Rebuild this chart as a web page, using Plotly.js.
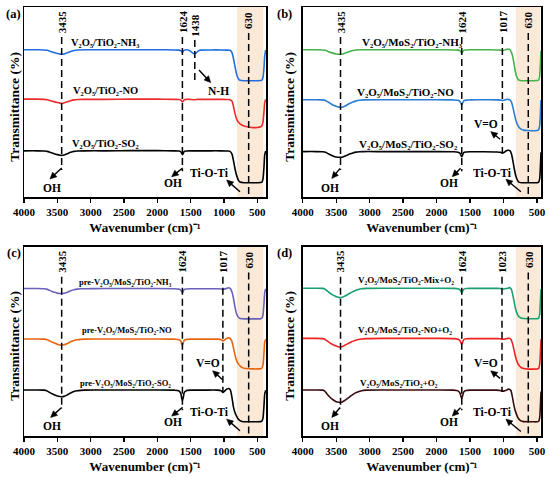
<!DOCTYPE html>
<html>
<head>
<meta charset="utf-8">
<script src="https://cdn.plot.ly/plotly-3.0.1.min.js"></script>
<style>html,body{margin:0;padding:0;background:#fff;}#chart{width:550px;height:478px;}</style>
</head>
<body>
<div id="chart"></div>
<script>
// ---------------- DATA ----------------
// Panel (a)
var wnA = [4000,3800,3700,3650,3600,3550,3500,3460,3435,3400,3350,3300,3250,3200,3100,2800,2400,2000,1750,1680,1650,1635,1624,1610,1595,1560,1520,1490,1460,1438,1415,1390,1350,1200,1050,950,910,880,860,840,820,800,780,760,700,630,560,500,450,430,415,400,390,375];
var aNH3 = [77.5,77.5,77.4,77.2,76.6,76.0,75.5,75.2,75.1,75.3,75.9,76.6,77.1,77.4,77.5,77.5,77.5,77.5,77.4,77.3,77.1,76.6,76.2,76.8,77.3,77.5,77.1,76.4,75.6,75.3,75.9,76.8,77.3,77.4,77.4,77.3,77.2,76.0,73.2,69.5,66.0,63.4,62.0,61.5,61.2,61.2,61.2,61.2,61.3,61.6,63.0,68.0,74.0,77.4];
var aNO  = [51.5,51.5,51.4,51.2,50.7,50.2,49.7,49.4,49.3,49.5,50.1,50.7,51.1,51.3,51.4,51.4,51.5,51.5,51.4,51.3,51.1,50.5,50.0,50.6,51.2,51.4,51.4,51.3,51.2,51.2,51.3,51.4,51.4,51.4,51.4,51.3,51.2,50.4,48.0,44.8,42.0,40.2,39.2,38.5,37.4,36.8,36.5,36.6,37.0,37.6,39.5,45.0,49.5,51.4];
var aSO2 = [24.3,24.3,24.2,24.0,23.4,22.8,22.3,22.0,21.9,22.1,22.8,23.5,24.0,24.2,24.3,24.3,24.4,24.4,24.3,24.2,23.9,23.0,22.3,23.1,24.0,24.2,24.3,24.3,24.3,24.3,24.3,24.3,24.3,24.3,24.3,24.2,24.0,22.6,19.5,15.8,12.5,10.2,8.6,7.9,7.5,7.5,7.5,7.5,7.6,7.9,9.5,16.0,22.0,24.2];

// Panel (b)
var wnB = [4000,3800,3700,3660,3620,3580,3540,3500,3460,3435,3400,3350,3300,3250,3200,3150,3100,2800,2400,2000,1750,1680,1650,1635,1624,1610,1595,1560,1500,1300,1100,1040,1017,995,965,935,905,880,860,840,820,800,780,760,730,700,630,560,500,475,460,450,440];
var bNH3 = [77.5,77.5,77.4,77.2,76.6,76.0,75.6,75.3,75.1,75.1,75.3,75.9,76.6,77.1,77.4,77.5,77.5,77.5,77.5,77.5,77.4,77.3,77.0,76.2,75.6,76.4,77.2,77.4,77.5,77.5,77.4,77.3,77.1,77.2,77.6,77.9,77.6,76.0,73.5,69.5,65.5,63.0,61.8,61.4,61.2,61.2,61.2,61.2,61.3,61.6,63.5,69.0,77.0];
var bNO  = [51.2,51.2,51.1,50.8,50.0,49.1,48.3,47.7,47.3,47.2,47.4,48.2,49.2,50.0,50.6,50.9,51.1,51.2,51.2,51.2,51.1,50.9,50.3,49.2,48.4,49.5,50.6,51.0,51.1,51.2,51.1,51.0,50.8,50.9,51.3,51.4,51.1,49.8,47.3,44.0,41.0,38.8,37.3,36.3,35.6,35.2,35.0,34.9,35.0,35.4,37.5,43.0,51.0];
var bSO2 = [23.9,23.9,23.8,23.5,22.8,22.1,21.5,21.1,20.9,20.9,21.1,21.8,22.6,23.2,23.6,23.8,23.9,23.9,23.9,23.9,23.8,23.6,23.0,21.9,21.2,22.2,23.4,23.7,23.8,23.8,23.7,23.5,23.2,23.4,24.2,24.6,24.4,22.5,19.0,15.0,11.6,9.5,8.2,7.7,7.5,7.5,7.5,7.5,7.5,7.8,9.5,15.0,23.5];

// Panel (c)
var wnC = [4000,3800,3700,3660,3620,3580,3540,3500,3460,3435,3400,3350,3300,3250,3200,3150,3100,2800,2400,2000,1750,1680,1650,1635,1624,1610,1595,1560,1500,1300,1100,1040,1017,995,960,930,905,880,860,840,820,800,780,760,730,700,630,560,500,450,430,415,400,390,375];
var cNH3 = [77.8,77.8,77.7,77.5,76.9,76.3,75.8,75.4,75.2,75.1,75.3,75.9,76.6,77.2,77.5,77.7,77.7,77.8,77.8,77.8,77.7,77.5,77.1,76.2,75.6,76.5,77.4,77.6,77.7,77.7,77.7,77.6,77.4,77.5,77.9,78.2,77.8,76.0,73.0,69.0,65.5,63.5,62.5,62.0,61.9,61.8,61.8,61.8,61.8,61.9,62.3,64.0,70.0,75.5,77.7];
var cNO  = [51.2,51.2,51.1,50.9,50.3,49.6,49.0,48.4,48.0,47.9,48.1,48.8,49.7,50.4,50.8,51.0,51.1,51.2,51.2,51.2,51.1,50.9,50.1,48.7,47.9,49.2,50.6,51.0,51.1,51.1,51.1,50.8,50.2,50.6,51.5,51.8,51.4,49.8,46.8,43.5,40.8,39.0,37.8,37.0,36.2,35.8,35.5,35.4,35.4,35.5,35.9,37.5,44.0,49.5,51.1];
var cSO2 = [24.3,24.3,24.2,23.9,23.1,22.3,21.6,21.1,20.8,20.7,20.9,21.7,22.7,23.5,23.9,24.1,24.2,24.3,24.3,24.3,24.2,23.9,22.6,20.0,18.6,20.6,23.0,24.0,24.2,24.2,24.2,23.8,23.0,23.6,24.7,25.1,24.3,20.3,15.6,12.8,11.1,9.7,8.7,8.1,7.7,7.5,7.5,7.5,7.5,7.6,7.9,9.5,16.0,22.0,24.2];

// Panel (d)
var wnD = [4000,3800,3700,3670,3640,3600,3560,3520,3480,3450,3435,3410,3370,3320,3270,3220,3170,3120,3050,2800,2400,2000,1750,1680,1650,1635,1624,1610,1595,1560,1500,1300,1100,1050,1023,990,960,935,915,890,870,850,830,810,790,770,740,700,630,560,500,475,460,450,440];
var dMix = [78.0,78.0,77.9,77.6,76.7,75.6,74.6,73.9,73.3,73.0,73.0,73.2,73.9,74.8,75.8,76.7,77.3,77.7,77.9,78.0,78.0,78.0,77.9,77.7,77.1,76.2,75.6,76.5,77.4,77.8,77.9,77.9,77.9,77.8,77.6,77.6,77.8,78.0,78.3,77.8,75.8,72.5,68.8,65.8,64.0,63.0,62.3,62.0,61.9,61.9,61.9,62.2,64.0,70.0,77.5];
var dNO  = [51.5,51.5,51.4,51.1,50.3,49.3,48.4,47.7,47.2,47.0,47.0,47.2,47.9,48.8,49.7,50.4,50.9,51.2,51.4,51.5,51.5,51.5,51.4,51.1,50.3,49.1,48.4,49.5,50.8,51.3,51.4,51.4,51.4,51.3,51.1,51.1,51.3,51.5,51.6,51.1,49.3,46.5,43.3,40.5,38.6,37.3,36.2,35.6,35.3,35.3,35.4,35.7,37.5,43.0,51.0];
var dO2  = [24.3,24.3,24.2,23.7,22.3,20.7,19.4,18.5,17.9,17.7,17.7,17.9,18.8,20.1,21.4,22.6,23.4,23.9,24.2,24.3,24.3,24.3,24.2,23.8,22.6,20.8,19.8,21.3,23.2,24.0,24.2,24.2,24.2,24.0,23.7,23.8,24.2,24.6,24.7,24.0,21.0,17.2,14.0,11.8,10.0,8.9,8.0,7.6,7.5,7.5,7.5,7.8,9.5,15.0,23.5];

var tickVals = [4000,3500,3000,2500,2000,1500,1000,500];
var namesA = ['V₂O₅/TiO₂-NH₃','V₂O₅/TiO₂-NO','V₂O₅/TiO₂-SO₂'];
var namesB = ['V₂O₅/MoS₂/TiO₂-NH₃','V₂O₅/MoS₂/TiO₂-NO','V₂O₅/MoS₂/TiO₂-SO₂'];
var namesC = ['pre-V₂O₅/MoS₂/TiO₂-NH₃','pre-V₂O₅/MoS₂/TiO₂-NO','pre-V₂O₅/MoS₂/TiO₂-SO₂'];
var namesD = ['V₂O₅/MoS₂/TiO₂-Mix+O₂','V₂O₅/MoS₂/TiO₂-NO+O₂','V₂O₅/MoS₂/TiO₂+O₂'];
var peaksA = [3435,1624,1438,630];
var peaksB = [3435,1624,1017,630];
var peaksC = [3435,1624,1017,630];
var peaksD = [3435,1624,1023,630];
var xTitle = 'Wavenumber (cm)⁻¹';
var yTitle = 'Transmittance (%)';

// ---------------- STYLE ----------------
var FONT = 'Liberation Serif, Times New Roman, serif';
var colors = {
  a: ['#1f6fe3','#ee2b2b','#000000'],
  b: ['#44b34a','#2b7cd3','#000000'],
  c: ['#6a61bd','#e8650f','#000000'],
  d: ['#18a06f','#ef2121','#3a0b0d']
};

var panels = [
  {id:'a', xa:'x',  ya:'y',  wn:wnA, ys:[aNH3,aNO,aSO2], names:namesA, peaks:peaksA, xdom:[24/550,266/550],   ydom:[(478-197)/478,(478-7)/478], xend:370, shade:[805,410], nameX:[2785,2785,2785], nameY:[81.4,55.9,28.4], nameSize:10.5},
  {id:'b', xa:'x2', ya:'y2', wn:wnB, ys:[bNH3,bNO,bSO2], names:namesB, peaks:peaksB, xdom:[302.7/550,541/550], ydom:[(478-197)/478,(478-7)/478], xend:440, shade:[815,455], nameX:[2365,2465,2420], nameY:[81.4,55.4,27.9], nameSize:11},
  {id:'c', xa:'x3', ya:'y3', wn:wnC, ys:[cNH3,cNO,cSO2], names:namesC, peaks:peaksC, xdom:[24/550,266/550],   ydom:[(478-436)/478,(478-246.5)/478], xend:370, shade:[805,410], nameX:[2475,2460,2475], nameY:[81.4,55.9,27.9], nameSize:8.5},
  {id:'d', xa:'x4', ya:'y4', wn:wnD, ys:[dMix,dNO,dO2], names:namesD, peaks:peaksD, xdom:[302.7/550,541/550], ydom:[(478-436)/478,(478-246.5)/478], xend:440, shade:[815,455], nameX:[2455,2475,2565], nameY:[82.3,55.9,27.9], nameSize:9}
];

var traces = [], shapes = [], annotations = [];
var layout = {
  width:550, height:478, margin:{l:0,r:0,t:0,b:0},
  paper_bgcolor:'#fff', plot_bgcolor:'rgba(0,0,0,0)', showlegend:false,
  font:{family:FONT, color:'#000'}
};

function txt(p, x, y, text, size, extra) {
  var o = {xref:p.xa, yref:p.ya, x:x, y:y, text:text, showarrow:false,
    font:{family:FONT, size:size, color:'#000', weight:'bold'}, xanchor:'center', yanchor:'middle'};
  for (var k in extra) o[k] = extra[k];
  annotations.push(o);
}
// arrow: head at data (x,y); tail offset (ax right, ay down) in screen pixels
function arrow(p, x, y, ax, ay) {
  var tx = ax, ty = -ay;                 // tail in up-positive pixel coords
  var len = Math.sqrt(tx*tx + ty*ty);
  var ux = -tx/len, uy = -ty/len;        // unit vector tail -> head
  var nx = -uy, ny = ux;
  var L = 6.5, W = 3.1;
  var bx = -L*ux, by = -L*uy;            // base centre of head
  var base = {xref:p.xa, yref:p.ya, xsizemode:'pixel', ysizemode:'pixel', xanchor:x, yanchor:y, type:'path'};
  var shaft = Object.assign({}, base, {path:'M'+tx.toFixed(2)+','+ty.toFixed(2)+' L'+(bx*0.7).toFixed(2)+','+(by*0.7).toFixed(2),
    line:{color:'#000', width:1.4}});
  var head = Object.assign({}, base, {path:'M0,0 L'+(bx+W*nx).toFixed(2)+','+(by+W*ny).toFixed(2)+' L'+(bx-W*nx).toFixed(2)+','+(by-W*ny).toFixed(2)+' Z',
    fillcolor:'#000', line:{color:'#000', width:0.6}});
  shapes.push(shaft, head);
}
function vline(p, x, y0, y1) {
  shapes.push({type:'line', xref:p.xa, yref:p.ya, x0:x, x1:x, y0:y0, y1:y1,
    line:{color:'#000', width:1.5, dash:'7px,4px'}});
}

panels.forEach(function(p, i) {
  var axN = p.xa === 'x' ? '' : p.xa.slice(1);
  layout['xaxis'+axN] = {
    domain:p.xdom, range:[4000, p.xend], anchor:p.ya, tickvals:tickVals,
    ticks:'outside', ticklen:4, tickwidth:1.3, tickcolor:'#000',
    showline:true, mirror:true, linewidth:1.5, linecolor:'#000',
    showgrid:false, zeroline:false,
    tickfont:{family:FONT, size:11, color:'#000', weight:'bold'},
    title:{text:xTitle, font:{family:FONT, size:13, color:'#000', weight:'bold'}, standoff:6}
  };
  layout['yaxis'+axN] = {
    domain:p.ydom, range:[0,100], anchor:p.xa, showticklabels:false, ticks:'',
    showline:true, mirror:true, linewidth:1.5, linecolor:'#000',
    showgrid:false, zeroline:false
  };
  // y title
  var left = (p.id==='a'||p.id==='c');
  var topRow = (p.id==='a'||p.id==='b');
  annotations.push({xref:'paper', yref:'paper', x:(left?15:290)/550, y:1-(topRow?106.7:345.7)/478,
    text:yTitle, textangle:-90, showarrow:false, xanchor:'center', yanchor:'middle',
    font:{family:FONT, size:13.5, color:'#000', weight:'bold'}});
  // shaded Ti-O-Ti region
  shapes.push({type:'rect', xref:p.xa, yref:p.ya, x0:p.shade[0], x1:p.shade[1], y0:0, y1:100,
    fillcolor:'#fbe9d8', line:{width:0}, layer:'below'});
  // spectra
  p.ys.forEach(function(yv, j) {
    traces.push({type:'scatter', mode:'lines', x:p.wn, y:yv, xaxis:p.xa, yaxis:p.ya,
      line:{color:colors[p.id][j], width:1.6, shape:'spline', smoothing:0.6}, hoverinfo:'skip'});
    txt(p, p.nameX[j], p.nameY[j], p.names[j], p.nameSize);
  });
  // peak markers
  var top = topRow ? 84.2 : 84.1;
  vline(p, p.peaks[0], top, 14.2);
  vline(p, p.peaks[1], top, 13.6);
  if (p.id === 'a') vline(p, p.peaks[2], 82.6, 60.5);
  else vline(p, p.peaks[2], top, (p.id==='b') ? 22.0 : 23.2);
  vline(p, p.peaks[3], 86.3, 0);
  p.peaks.forEach(function(pk, k) {
    var yy = (k===3) ? 93.0 : ((p.id==='a' && k===2) ? 90.5 : 92.3);
    txt(p, pk, yy, String(pk), 11, {textangle:-90});
  });
});

// OH / Ti-O-Ti / V=O / N-H labels
var L = panels;
// (a)
txt(L[0], 3585, 4.7, 'OH', 11.5);   arrow(L[0], 3610, 9.5, 11.7, -11);
txt(L[0], 1765, 7.4, 'OH', 11.5);   arrow(L[0], 1785, 10.7, 11, -8.7);
txt(L[0], 1225, 12.6, 'Ti-O-Ti', 11.5); arrow(L[0], 960, 8.9, 13.3, 11.7);
txt(L[0], 1090, 55.9, 'N-H', 11.5); arrow(L[0], 1200, 60.2, -11.7, -12.7);
// (b)
txt(L[1], 3590, 4.6, 'OH', 11.5);   arrow(L[1], 3565, 9.8, 8.3, -10);
txt(L[1], 1816, 7.5, 'OH', 11.5);   arrow(L[1], 1765, 10.7, 8.3, -8.4);
txt(L[1], 1165, 12.5, 'Ti-O-Ti', 11.5); arrow(L[1], 965, 9.3, 15, 12.4);
txt(L[1], 1265, 38.3, 'V=O', 11.5); arrow(L[1], 1190, 34.4, 9.3, 7.6);
// (c)
txt(L[2], 3585, 5.1, 'OH', 11.5);   arrow(L[2], 3600, 9.8, 11, -10);
txt(L[2], 1760, 7.5, 'OH', 11.5);   arrow(L[2], 1785, 10.5, 11, -8.7);
txt(L[2], 1220, 12.5, 'Ti-O-Ti', 11.5); arrow(L[2], 960, 8.9, 13.3, 11.7);
txt(L[2], 1235, 38.3, 'V=O', 11.5); arrow(L[2], 1170, 34.4, 9.6, 8.6);
// (d)
txt(L[3], 3590, 5.1, 'OH', 11.5);   arrow(L[3], 3565, 9.8, 8.3, -10);
txt(L[3], 1816, 7.5, 'OH', 11.5);   arrow(L[3], 1765, 10.5, 8.3, -8.4);
txt(L[3], 1165, 12.5, 'Ti-O-Ti', 11.5); arrow(L[3], 965, 8.9, 15, 12.4);
txt(L[3], 1265, 38.3, 'V=O', 11.5); arrow(L[3], 1190, 34.4, 9.3, 7.6);

// panel letters
[['(a)',13.5/550,1-13.5/478],['(b)',284/550,1-13.5/478],['(c)',13.5/550,1-253/478],['(d)',284/550,1-253/478]].forEach(function(t){
  annotations.push({xref:'paper', yref:'paper', x:t[1], y:t[2], text:t[0], showarrow:false,
    font:{family:FONT, size:12.5, color:'#000', weight:'bold'}, xanchor:'center', yanchor:'middle'});
});

layout.shapes = shapes;
layout.annotations = annotations;
Plotly.newPlot('chart', traces, layout, {staticPlot:true, displayModeBar:false});
</script>
</body>
</html>
